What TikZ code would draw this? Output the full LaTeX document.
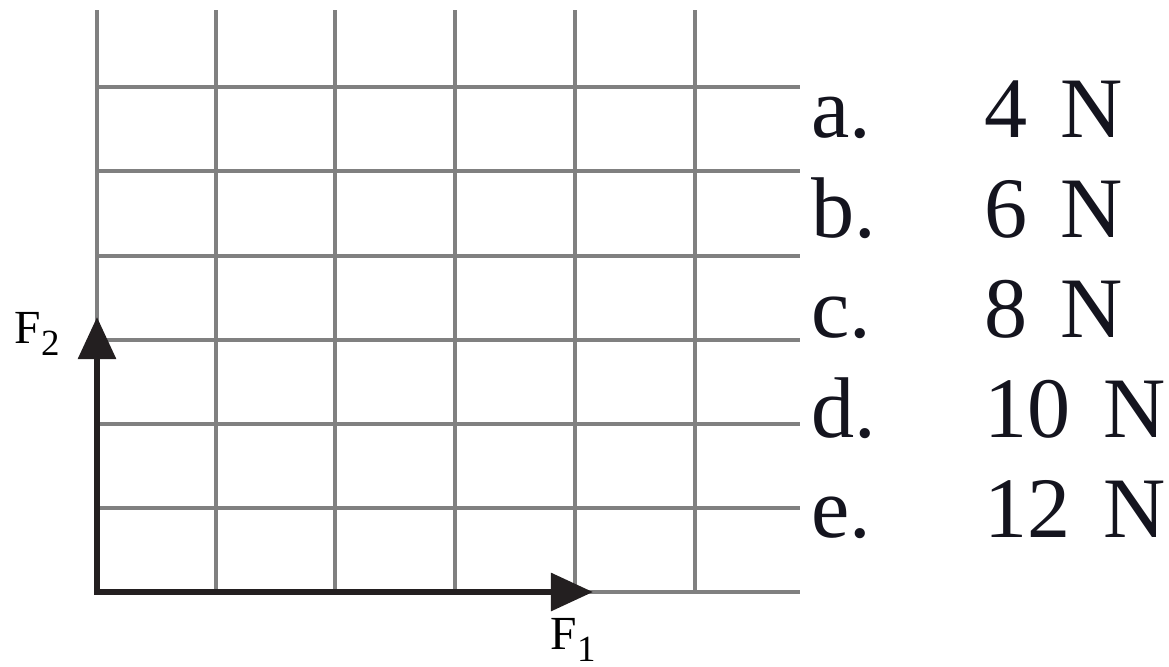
\documentclass[tikz,border=0pt]{standalone}
\usepackage{fontspec}
\setmainfont{Liberation Serif}
\usetikzlibrary{arrows.meta}
\newcommand{\fsub}[1]{\raisebox{-0.12cm}{\fontsize{10.5}{12}\selectfont #1}}
\newcommand{\unitN}{\hspace{0.11cm}N}
\begin{document}
\begin{tikzpicture}[x=0.01cm,y=-0.01cm,
  gridline/.style={draw={rgb,255:red,128;green,128;blue,128}, line width=0.045cm},
  force/.style={line width=0.06cm, draw={rgb,255:red,35;green,31;blue,32},
    {Triangle[length=0.42cm,width=0.37cm]}-{Triangle[length=0.42cm,width=0.37cm]}},
  ans/.style={anchor=base west, inner sep=0pt, text={rgb,255:red,20;green,20;blue,30}, font=\fontsize{24.5}{28}\selectfont},
  flabel/.style={anchor=base west, inner sep=0pt, font=\fontsize{13.5}{15}\selectfont}]
\useasboundingbox (0,0) rectangle (1169,666);
\foreach \x in {97,216,335,455,575,695} \draw[gridline] (\x,10) -- (\x,592);
\foreach \y in {87,171,256,340,424,508,592} \draw[gridline] (97,\y) -- (800,\y);
\coordinate (O) at (97,592);
\coordinate (T1) at (593,592);
\coordinate (T2) at (97,317);
\draw[force] (T2) -- (O) -- (T1);
\node[flabel] (f2) at (14,343) {F\fsub{2}};
\node[flabel] (f1) at (550,649) {F\fsub{1}};
\node[ans] (la) at (811,137) {a.};
\node[ans] (lb) at (811,237) {b.};
\node[ans] (lc) at (811,337) {c.};
\node[ans] (ld) at (811,437) {d.};
\node[ans] (le) at (811,537) {e.};
\node[ans] (va) at (984,137) {4 \unitN};
\node[ans] (vb) at (984,237) {6 \unitN};
\node[ans] (vc) at (984,337) {8 \unitN};
\node[ans] (vd) at (984,437) {10 \unitN};
\node[ans] (ve) at (984,537) {12 \unitN};
\end{tikzpicture}
\end{document}
